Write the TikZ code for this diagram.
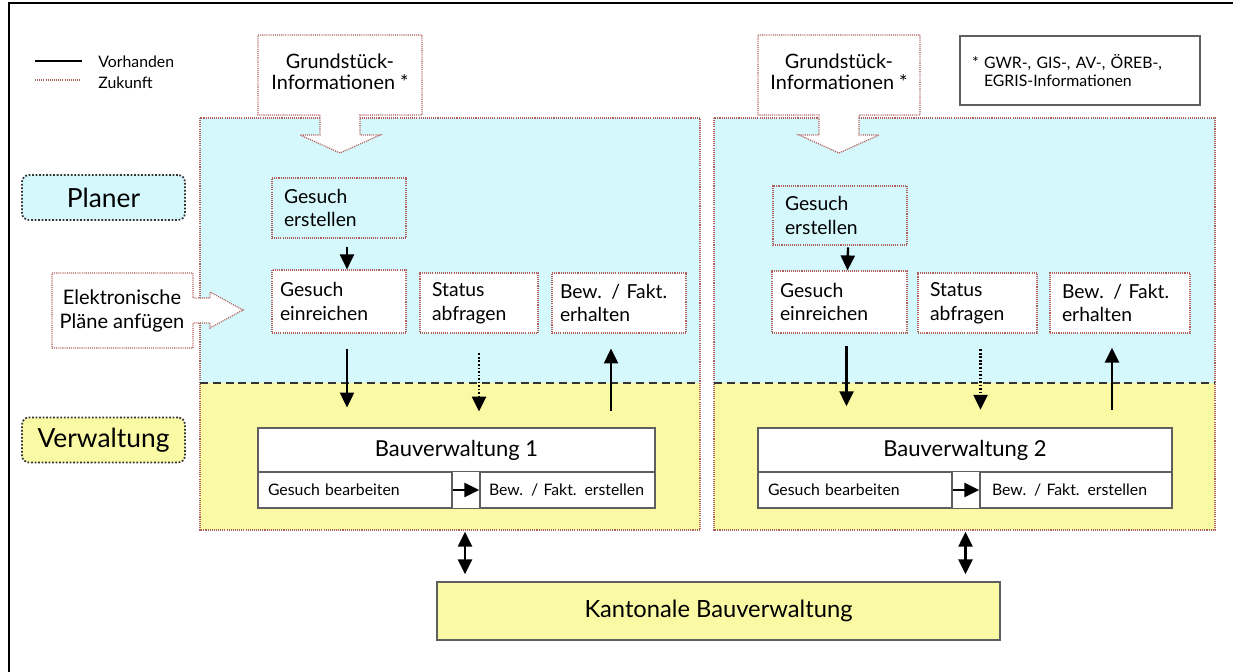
\documentclass[tikz,border=0pt]{standalone}
\usepackage{fontspec}
\setmainfont{Lato}
\usetikzlibrary{arrows.meta, positioning, calc}

\definecolor{planerblau}{RGB}{212,248,252}
\definecolor{verwgelb}{RGB}{250,250,165}
\definecolor{zukrot}{RGB}{175,95,90}
\definecolor{rahmengrau}{RGB}{95,95,95}
\newdimen\pxu \pxu=0.02cm

\begin{document}
\begin{tikzpicture}[x=0.02cm, y=-0.02cm,
    zuk/.style={draw=zukrot, line width=0.7pt, dash pattern=on 0.6pt off 0.6pt},
    flaeche/.style={inner sep=0pt, outer sep=0pt},
    aktion/.style={zuk, fill=white, align=left, inner xsep=10\pxu, inner ysep=0pt, font=\fontsize{11}{13.5}\selectfont},
    rolle/.style={draw=black!80, line width=1pt, dash pattern=on 1pt off 1pt, rounded corners=4pt, minimum width=163\pxu, minimum height=45\pxu, font=\fontsize{15}{17}\selectfont},
    vw/.style={draw=rahmengrau, line width=0.8pt, fill=white},
    unter/.style={vw, align=left, inner xsep=9\pxu, minimum height=36\pxu, font=\fontsize{9}{11}\selectfont},
    pfeil/.style={line width=1.3pt, -{Triangle[width=8pt,length=8.5pt]}},
    punktpfeil/.style={pfeil, dash pattern=on 1pt off 1pt},
    doppel/.style={line width=1.3pt, {Triangle[width=8pt,length=8.5pt]}-{Triangle[width=8pt,length=8.5pt]}},
    trenn/.style={line width=1.2pt, draw=black!80, dash pattern=on 4.5pt off 2.8pt}]
\useasboundingbox (0,0) rectangle (1233,672);
\draw[line width=1.4pt] (9,672) -- (9,3) -- (1233,3);

% Legende
\draw[line width=1.1pt] (35,61) -- (82,61);
\draw[zuk] (35,80) -- (80,80);
\node[anchor=west, inner sep=0pt, font=\fontsize{9}{11}\selectfont] (vorh) at (98,62) {Vorhanden};
\node[anchor=west, inner sep=0pt, font=\fontsize{9}{11}\selectfont] (zuku) at (98,83) {Zukunft};

% Rollen
\node[rolle, fill=planerblau] (planer) at (103.5,197.5) {Planer};
\node[rolle, fill=verwgelb] (verw) at (103.5,440) {Verwaltung};

% Gemeinde 1 und 2
\node[flaeche, fill=planerblau, minimum width=500\pxu, minimum height=265\pxu] (PL1) at (450,250.5) {};
\node[flaeche, fill=verwgelb, minimum width=500\pxu, minimum height=147\pxu] (VW1) at (450,456.5) {};
\draw[zuk] (PL1.north west) rectangle (VW1.south east);
\draw[trenn] (PL1.south west) -- (PL1.south east);
\node[flaeche, fill=planerblau, minimum width=501\pxu, minimum height=265\pxu] (PL2) at (964.5,250.5) {};
\node[flaeche, fill=verwgelb, minimum width=501\pxu, minimum height=147\pxu] (VW2) at (964.5,456.5) {};
\draw[zuk] (PL2.north west) rectangle (VW2.south east);
\draw[trenn] (PL2.south west) -- (PL2.south east);

% Grundstueck-Informationen (Blockpfeile)
\draw[zuk, fill=white] (258,35) -- (422,35) -- (422,115) -- (360,115) -- (360,135) -- (380,135) -- (340,153)
    -- (300,135) -- (320,135) -- (320,115) -- (258,115) -- cycle;
\node[align=center, font=\fontsize{11.3}{12.2}\selectfont] (GI1) at (340,72) {Grundstück-\\Informationen *};
\draw[zuk, fill=white] (758,35) -- (920,35) -- (920,115) -- (859,115) -- (859,135) -- (879,135) -- (839,153)
    -- (799,135) -- (819,135) -- (819,115) -- (758,115) -- cycle;
\node[align=center, font=\fontsize{11.3}{12.2}\selectfont] (GI2) at (839,72) {Grundstück-\\Informationen *};

\node[draw=rahmengrau, line width=1pt, minimum width=240\pxu, minimum height=69\pxu, inner xsep=12\pxu,
    text width=216\pxu, align=left, font=\fontsize{9}{10.2}\selectfont] (HW) at (1080,70.5)
    {* GWR-, GIS-, AV-, ÖREB-,\\\phantom{* }EGRIS-Informationen};

% Elektronische Plaene
\draw[zuk, fill=white] (52,273) -- (193,273) -- (193,298) -- (210,298) -- (210,292) -- (243,310) -- (210,328)
    -- (210,323) -- (193,323) -- (193,348) -- (52,348) -- cycle;
\node[align=center, font=\fontsize{11.4}{14}\selectfont] (EP) at (122,311) {Elektronische\\Pläne anfügen};

% Aktionen Planer
\node[aktion, fill=none, inner xsep=12\pxu, text width=110\pxu, minimum height=60\pxu] (GE1) at (339,208) {Gesuch\\erstellen};
\node[aktion, inner xsep=8\pxu, text width=118\pxu, minimum height=63\pxu] (EI1) at (339,301.5) {Gesuch\\einreichen};
\node[aktion, inner xsep=12\pxu, text width=94\pxu, minimum height=60\pxu] (SA1) at (479,303) {Status\\abfragen};
\node[aktion, inner xsep=8\pxu, text width=118\pxu, minimum height=60\pxu] (BE1) at (619,303) {Bew. / Fakt.\\erhalten};
\node[aktion, fill=none, inner xsep=12\pxu, text width=110\pxu, minimum height=59\pxu] (GE2) at (840,215.5) {Gesuch\\erstellen};
\node[aktion, inner xsep=8\pxu, text width=119\pxu, minimum height=62\pxu] (EI2) at (839.5,302) {Gesuch\\einreichen};
\node[aktion, inner xsep=12\pxu, text width=95\pxu, minimum height=60\pxu] (SA2) at (977.5,303) {Status\\abfragen};
\node[aktion, inner xsep=12\pxu, text width=116\pxu, minimum height=60\pxu] (BE2) at (1120,303) {Bew. / Fakt.\\erhalten};

% Bauverwaltungen
\node[vw, minimum width=397\pxu, minimum height=44\pxu, font=\fontsize{12.5}{14}\selectfont] (BV1) at (456.5,450) {Bauverwaltung 1};
\node[unter, inner xsep=10\pxu, text width=174\pxu] (GB1) at (355,490) {Gesuch bearbeiten};
\node[unter, text width=157\pxu] (BF1) at (567.5,490) {Bew. / Fakt. erstellen};
\draw[vw] (GB1.north east) rectangle (BF1.south west);
\node[vw, minimum width=414\pxu, minimum height=44\pxu, font=\fontsize{12.5}{14}\selectfont] (BV2) at (965,450) {Bauverwaltung 2};
\node[unter, inner xsep=10\pxu, text width=174\pxu] (GB2) at (855,490) {Gesuch bearbeiten};
\node[unter, inner xsep=12\pxu, text width=168\pxu] (BF2) at (1076,490) {Bew. / Fakt. erstellen};
\draw[vw] (GB2.north east) rectangle (BF2.south west);

\node[draw=rahmengrau, line width=0.8pt, fill=verwgelb, minimum width=563\pxu, minimum height=58\pxu,
    font=\fontsize{13.5}{15}\selectfont] (KB) at (718.5,611) {Kantonale Bauverwaltung};

% Verbindungen
\draw[pfeil, shorten <=4.5pt] ($(GE1.south)+(8,0)$) -- ($(EI1.north)+(8,0)$);
\draw[pfeil, shorten <=8.5pt, shorten >=11.3pt] ($(EI1.south)+(8,0)$) -- ($(EI1.south |- BV1.north)+(8,0)$);
\draw[punktpfeil, shorten <=11.3pt, shorten >=9pt] (SA1.south) -- (SA1.south |- BV1.north);
\draw[pfeil, shorten <=9pt, shorten >=8.5pt] ($(BE1.south |- BV1.north)+(-8,0)$) -- ($(BE1.south)+(-8,0)$);
\draw[pfeil] (GB1) -- (BF1);

\draw[pfeil, shorten <=1pt] ($(GE2.south)+(8,0)$) -- ($(EI2.north)+(8,0)$);
\draw[pfeil, shorten <=7pt, shorten >=12pt] ($(EI2.south)+(7,0)$) -- ($(EI2.south |- BV2.north)+(7,0)$);
\draw[punktpfeil, shorten <=9pt, shorten >=10pt] ($(SA2.south)+(3,0)$) -- ($(SA2.south |- BV2.north)+(3,0)$);
\draw[pfeil, shorten <=10pt, shorten >=8pt] ($(BE2.south |- BV2.north)+(-8,0)$) -- ($(BE2.south)+(-8,0)$);
\draw[pfeil] (GB2) -- (BF2);

\draw[doppel, shorten <=1pt, shorten >=4pt] ($(VW1.south)+(15,0)$) -- ($(VW1.south |- KB.north)+(15,0)$);
\draw[doppel, shorten <=1pt, shorten >=4pt] ($(VW2.south)+(1,0)$) -- ($(VW2.south |- KB.north)+(1,0)$);
\end{tikzpicture}
\end{document}
